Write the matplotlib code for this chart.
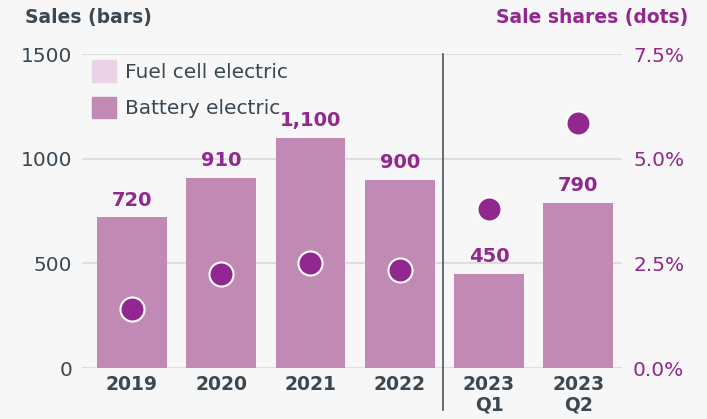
import numpy as np
import matplotlib.pyplot as plt
from matplotlib.patches import Patch

plt.rc('font', family='DejaVu Sans')

categories = ['2019', '2020', '2021', '2022', '2023\nQ1', '2023\nQ2']
bev_sales = [720, 910, 1100, 900, 450, 790]
value_labels = ['720', '910', '1,100', '900', '450', '790']
shares = [1.4, 2.25, 2.5, 2.35, 3.8, 5.85]

bg = '#f7f7f7'
dark = '#3b4852'
purple = '#92278f'
bar_col = '#c08ab5'
fuel_col = '#ead3e6'

fig = plt.figure(figsize=(7.07, 4.19), dpi=100, facecolor=bg)
ax = fig.add_axes([82/707, 1-368/419, 540/707, 314/419], facecolor=bg)
ax2 = ax.twinx()

x = np.arange(len(categories))
ax.bar(x, bev_sales, width=0.78, color=bar_col, zorder=2)
for xi, v, lab in zip(x, bev_sales, value_labels):
  ax.text(xi, v + 35, lab, ha='center', va='bottom', color=purple,
          fontsize=14, fontweight='bold')

ax.set_xlim(-0.56, 5.49)
ax.set_ylim(0, 1500)
ax.set_yticks([0, 500, 1000, 1500])
ax.set_xticks(x)
ax.set_xticklabels(categories, fontsize=13.5, fontweight='bold', color=dark,
                   linespacing=1.1)
ax.tick_params(axis='y', length=0, labelsize=14.5, labelcolor=dark, pad=7)
ax.tick_params(axis='x', length=0, pad=5)
ax.grid(axis='y', color='#dedede', linewidth=1.5, zorder=0)
for s in ax.spines.values():
  s.set_visible(False)
ax.axvline(3.49, ymin=-0.134, ymax=1.0, color='#4a5560', linewidth=1.2,
           clip_on=False, zorder=3)

ax2.set_ylim(0, 7.5)
ax2.set_yticks([0, 2.5, 5.0, 7.5])
ax2.set_yticklabels(['0.0%', '2.5%', '5.0%', '7.5%'])
ax2.tick_params(axis='y', length=0, labelsize=14.5, labelcolor=purple, pad=8)
for s in ax2.spines.values():
  s.set_visible(False)
ax2.scatter(x, shares, s=300, color=purple, edgecolor='white', linewidth=1.5,
            zorder=5)

handles = [Patch(color=fuel_col), Patch(color=bar_col)]
leg = ax.legend(handles, ['Fuel cell electric', 'Battery electric'],
                loc='upper left', bbox_to_anchor=(0.0, 1.012), frameon=False,
                fontsize=14.5, handlelength=1.2, handleheight=1.25,
                handletextpad=0.45, labelspacing=0.75, borderaxespad=0.1)
for t in leg.get_texts():
  t.set_color(dark)

fig.text(25/707, 1-17/419, 'Sales (bars)', fontsize=13.5, fontweight='bold',
         color=dark, va='center', ha='left')
fig.text(688/707, 1-17/419, 'Sale shares (dots)', fontsize=13.5,
         fontweight='bold', color=purple, va='center', ha='right')

plt.savefig('out.png', dpi=100, facecolor=bg)
